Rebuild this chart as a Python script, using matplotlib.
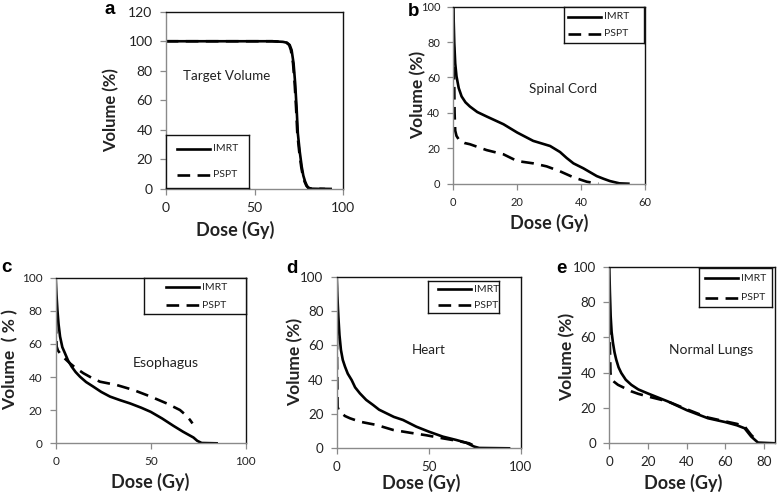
import matplotlib
matplotlib.use("Agg")
import matplotlib.pyplot as plt
from matplotlib.lines import Line2D

W, H = 778, 499

# ---------------- data ----------------
# a: Target volume
a_imrt_dose = [0, 10, 30, 50, 60, 66, 68.3, 69.8, 70.9, 72.0, 72.9, 73.7, 74.4, 75.5, 76.6, 77.5, 78.5, 79.5, 80.4, 82, 89]
a_imrt_vol = [100, 100, 100, 100, 100, 99.6, 99, 97.5, 94, 85, 71.5, 55, 37.7, 25, 15, 9, 5, 2.2, 0.8, 0.2, 0]
a_pspt_dose = [0, 10, 30, 50, 60, 66, 68.0, 69.5, 70.5, 71.7, 72.6, 73.4, 74.1, 75.2, 76.3, 77.2, 78.2, 79.2, 80.2, 82, 96]
a_pspt_vol = [100, 100, 100, 100, 100, 99.6, 99, 97.5, 94, 85, 71.5, 55, 37.7, 25, 15, 9, 5, 2.2, 0.8, 0.2, 0]

# b: Spinal cord
b_imrt_dose = [0, 0.15, 0.3, 0.6, 1.0, 1.7, 2.6, 3.8, 5.2, 7.5, 10.4, 15.7, 20, 25, 30.3, 33.4, 35.5, 37.6, 40.7, 44.9, 47, 49, 52, 54.8]
b_imrt_vol = [100, 90, 79.6, 68, 60.7, 54, 49.3, 46, 43.6, 40.5, 38, 33.6, 28.9, 24.2, 21.3, 17.9, 14.5, 11.5, 8.7, 4.3, 2.8, 1.5, 0.2, 0]
b_pspt_dose = [0, 0.2, 0.4, 0.6, 1.0, 2.0, 3.5, 5.2, 10.4, 15.7, 20, 25, 29.2, 33.4, 37.6, 41.8, 45.4]
b_pspt_vol = [100, 70, 40, 30, 27, 24.2, 23, 22.3, 19, 16.6, 12.8, 11.5, 9.8, 7, 3.6, 1.1, 0]

# c: Esophagus
c_imrt_dose = [0, 0.4, 0.9, 1.5, 2.3, 3.5, 4.9, 6.5, 8.4, 10.5, 12.8, 16, 19.8, 24, 28.6, 34, 39.1, 45, 50, 56, 61.9, 67, 72.5, 74.5, 76.8, 84.7]
c_imrt_vol = [100, 90, 80.5, 72, 64.4, 58, 54.3, 50, 46.3, 43, 40.2, 37, 34.2, 31, 28.2, 26, 24.1, 21.5, 19, 15, 10.6, 7, 3.5, 1.5, 0.2, 0]
c_pspt_dose = [0, 0.2, 0.5, 1.2, 2.3, 4.5, 7.5, 10.5, 14.6, 19, 23.3, 32.1, 40.9, 50, 58.4, 65.4, 68.5, 70.7, 72]
c_pspt_vol = [86, 70, 58.4, 56, 54.3, 51.5, 48.3, 45.5, 42.3, 39.5, 37.2, 35.2, 32.2, 28.2, 24.1, 20.1, 17, 14.1, 12]

# d: Heart
d_imrt_dose = [0, 0.4, 0.9, 1.5, 2.3, 3.3, 4.5, 6, 8.1, 10, 12.6, 16, 19.8, 23, 27, 31, 36, 43.2, 50, 57.6, 64.7, 70.1, 74.6, 77.3, 93.5]
d_imrt_vol = [100, 88, 76.7, 66, 57.3, 51.5, 47.6, 43.5, 39.8, 35.5, 32, 28.2, 25.2, 22.5, 20.4, 18.3, 16.5, 12.6, 9.7, 6.8, 4.9, 3.3, 1.0, 0.2, 0]
d_pspt_dose = [0, 0.2, 0.5, 1.2, 2.7, 4.5, 7.2, 12.6, 21.6, 30.6, 39.6, 48.6, 57.6, 64.7, 71.9, 75, 77]
d_pspt_vol = [100, 50, 24, 22, 20.4, 18.8, 17.5, 15.5, 13.6, 10.7, 9.1, 7.6, 5.8, 4.5, 2.9, 1.2, 0.2]

# e: Normal lungs
e_imrt_dose = [0, 0.3, 0.7, 1.2, 1.9, 2.7, 3.6, 4.8, 6.2, 8.5, 11.4, 15, 20, 30.3, 40.2, 51, 60, 66, 70, 73.4, 76.9, 86]
e_imrt_vol = [100, 86, 72, 63, 56.8, 51.5, 47.3, 43, 39.8, 36, 33.1, 30.5, 28.2, 23.7, 18.7, 14.2, 12.0, 10.2, 8.5, 3.8, 0.4, 0]
e_pspt_dose = [0, 0.3, 0.6, 1.0, 2.5, 4.5, 7.5, 11.4, 15, 20, 30.3, 40, 51, 60, 66, 70, 73.4, 76.9]
e_pspt_vol = [80, 55, 40, 36.5, 34.8, 33.1, 31.5, 29.4, 28, 26.5, 23.7, 19.3, 14.6, 12.4, 11, 9.5, 4.7, 1.0]

series_labels = ["IMRT", "PSPT"]
organ_names = ["Target Volume", "Spinal Cord", "Esophagus", "Heart", "Normal Lungs"]
panel_letters = ["a", "b", "c", "d", "e"]
ylabels = ["Volume (%)", "Volume (%)", "Volume  ( % )", "Volume (%)", "Volume (%)"]
xlabel_text = "Dose (Gy)"

# ---------------- layout ----------------
fig = plt.figure(figsize=(W / 100, H / 100), dpi=100)
fig.patch.set_facecolor("white")

def box(l, r, t, b):
    return [l / W, 1 - b / H, (r - l) / W, (b - t) / H]

FONT = "Lato"
DASH = (0, (4.8, 2.8))
panels = [
    dict(rect=box(165.7, 343.3, 11.7, 189.0), xlim=(0, 100), ylim=(0, 120), xt=[0, 50, 100], yt=list(range(0, 121, 20)),
         data=(a_imrt_dose, a_imrt_vol, a_pspt_dose, a_pspt_vol), name_xy=(10, 76.5), name_ha="left",
         leg=(166, 249, 134.7, 188.3), leg_off=10.7, tick_fs=10.0, name_fs=9.6, xlab_fs=13, ylab_fs=12),
    dict(rect=box(453.3, 645.0, 6.7, 183.7), xlim=(0, 60), ylim=(0, 100), xt=[0, 20, 40, 60], yt=list(range(0, 101, 20)),
         data=(b_imrt_dose, b_imrt_vol, b_pspt_dose, b_pspt_vol), name_xy=(34.2, 53.5), name_ha="center",
         leg=(564, 644, 7.3, 42.7), leg_off=4, tick_fs=8.0, name_fs=9.6, xlab_fs=13, ylab_fs=12.5),
    dict(rect=box(55.7, 245.7, 277.7, 443.3), xlim=(0, 100), ylim=(0, 100), xt=[0, 50, 100], yt=list(range(0, 101, 20)),
         data=(c_imrt_dose, c_imrt_vol, c_pspt_dose, c_pspt_vol), name_xy=(58, 48.3), name_ha="center",
         leg=(144, 245.7, 277.7, 314.3), leg_off=21.7, tick_fs=8.5, name_fs=10.2, xlab_fs=13, ylab_fs=12.5),
    dict(rect=box(336.7, 521.0, 276.7, 448.3), xlim=(0, 100), ylim=(0, 100), xt=[0, 50, 100], yt=list(range(0, 101, 20)),
         data=(d_imrt_dose, d_imrt_vol, d_pspt_dose, d_pspt_vol), name_xy=(49.8, 57.3), name_ha="center",
         leg=(427.7, 499.3, 281, 313.3), leg_off=10.6, tick_fs=9.6, name_fs=9.6, xlab_fs=13, ylab_fs=12.5),
    dict(rect=box(609.3, 775.0, 266.7, 443.3), xlim=(0, 85.7), ylim=(0, 100), xt=[0, 20, 40, 60, 80], yt=list(range(0, 101, 20)),
         data=(e_imrt_dose, e_imrt_vol, e_pspt_dose, e_pspt_vol), name_xy=(52.7, 53), name_ha="center",
         leg=(698.7, 772, 268.3, 307.3), leg_off=6.3, tick_fs=9.6, name_fs=10, xlab_fs=13, ylab_fs=12.5),
]

ylab_pos = [(111, 110), (418, 95), (10, 360), (295, 361.7), (567.3, 356.7)]
xlab_pos = [(234.7, 230), (549, 222.5), (150, 482), (420.7, 482.5), (683.5, 482.5)]
letter_pos = [(110, 10), (413.5, 11), (6, 268), (291.7, 268.3), (561.3, 268.3)]

for i, p in enumerate(panels):
    ax = fig.add_axes(p["rect"])
    di, vi, dp, vp = p["data"]
    ax.plot(dp, vp, color="black", lw=1.9, ls=DASH, solid_capstyle="butt")
    ax.plot(di, vi, color="black", lw=1.9, solid_joinstyle="round")
    ax.set_xlim(*p["xlim"])
    ax.set_ylim(*p["ylim"])
    ax.set_xticks(p["xt"])
    ax.set_yticks(p["yt"])
    for side in ["left", "bottom"]:
        ax.spines[side].set_color("#8a8a8a")
        ax.spines[side].set_linewidth(1.0)
    for side in ["top", "right"]:
        ax.spines[side].set_color("#111111")
        ax.spines[side].set_linewidth(1.0)
    ax.tick_params(direction="out", length=4, width=0.9, color="#8a8a8a", labelsize=p["tick_fs"],
                   labelcolor="#222222", pad=5.5)
    for lab in ax.get_xticklabels() + ax.get_yticklabels():
        lab.set_fontfamily(FONT)
    ax.text(p["name_xy"][0], p["name_xy"][1], organ_names[i], ha=p["name_ha"], va="center",
            fontsize=p["name_fs"], family=FONT, color="#222222")

    # legend box (in pixel coords of figure)
    l, r, t, b = p["leg"]
    lax = fig.add_axes(box(l, r, t, b))
    lax.set_xlim(0, 1)
    lax.set_ylim(0, 1)
    lax.set_xticks([])
    lax.set_yticks([])
    for s in lax.spines.values():
        s.set_color("#111111")
        s.set_linewidth(1.0)
    lax.patch.set_facecolor("white")
    wpx = r - l
    x0 = p["leg_off"] / wpx
    x1 = x0 + 33 / wpx
    ys = [0.74, 0.25]
    lax.add_line(Line2D([x0, x1], [ys[0]] * 2, color="black", lw=1.9))
    lax.add_line(Line2D([x0, x1], [ys[1]] * 2, color="black", lw=1.9, ls=DASH))
    for k in range(2):
        lax.text(x1 + 3 / wpx, ys[k], series_labels[k], va="center", ha="left", fontsize=7.5, family=FONT,
                 color="#222222")

    # axis labels in figure pixels
    fig.text(ylab_pos[i][0] / W, 1 - ylab_pos[i][1] / H, ylabels[i], rotation=90, ha="center", va="center",
             fontsize=p["ylab_fs"], fontweight="bold", family=FONT, color="#222222")
    fig.text(xlab_pos[i][0] / W, 1 - xlab_pos[i][1] / H, xlabel_text, ha="center", va="center",
             fontsize=p["xlab_fs"], fontweight="bold", family=FONT, color="#222222")
    fig.text(letter_pos[i][0] / W, 1 - letter_pos[i][1] / H, panel_letters[i], ha="center", va="center",
             fontsize=13.5, fontweight="bold", family="Liberation Sans", color="black")

fig.savefig("out.png", dpi=100)
